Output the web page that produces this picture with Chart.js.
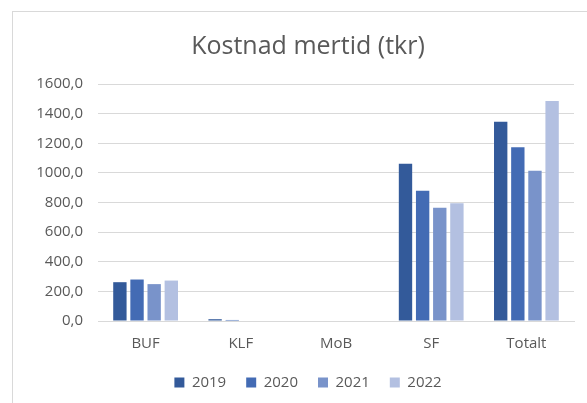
<!DOCTYPE html>
<html>
<head>
<meta charset="utf-8">
<script src="https://cdn.jsdelivr.net/npm/chart.js@4/dist/chart.umd.min.js"></script>
<style>
  html, body { margin: 0; padding: 0; background: #fff; }
  #frame { position: absolute; left: 12px; top: 11px; width: 600px; height: 420px;
           border-left: 1px solid #d9d9d9; border-top: 1px solid #d9d9d9; }
  #wrap { position: absolute; left: 0; top: 0; width: 587px; height: 403px; }
</style>
</head>
<body>
<div id="frame"></div>
<div id="wrap"><canvas id="chart"></canvas></div>
<script>
// data (tkr)
categories = ['BUF', 'KLF', 'MoB', 'SF', 'Totalt'];
years = ['2019', '2020', '2021', '2022'];
values_2019 = [262, 12, 0, 1062, 1345];
values_2020 = [280, 7, 0, 879, 1173];
values_2021 = [249, 0, 0, 764, 1015];
values_2022 = [273, 0, 0, 795, 1485];
y_ticks = [0, 200, 400, 600, 800, 1000, 1200, 1400, 1600];

colors = ['#335a9a', '#436bb4', '#7993ca', '#b3c0e1'];
series = [values_2019, values_2020, values_2021, values_2022];

textColor = '#595959';
gridColor = '#d9d9d9';
fontFamily = "'Open Sans', 'Noto Sans', sans-serif";

datasets = [];
years.forEach((y, i) => {
    datasets.push({
        label: y,
        data: series[i],
        backgroundColor: colors[i],
        borderWidth: 0,
        categoryPercentage: 0.72,
        barPercentage: 0.78
    });
});

// title and legend are centred on the outer frame (it runs past the window),
// and the legend sits a bit closer to the axis labels than chart.js puts it
frameCenter = 308;
legendLift = 12;
framePlugin = {
    id: 'framePlugin',
    afterLayout(chart) {
        [chart.titleBlock, chart.legend].forEach(b => {
            let dx = frameCenter - (b.left + b.right) / 2;
            b.left += dx;
            b.right += dx;
        });
        chart.legend.top -= legendLift;
        chart.legend.bottom -= legendLift;
    }
};

new Chart(document.getElementById('chart'), {
    type: 'bar',
    data: { labels: categories, datasets: datasets },
    plugins: [framePlugin],
    options: {
        responsive: true,
        maintainAspectRatio: false,
        animation: false,
        layout: { padding: { left: 0, right: 13, top: 24, bottom: -9 } },
        plugins: {
            title: {
                display: true,
                text: 'Kostnad mertid (tkr)',
                color: textColor,
                font: { family: fontFamily, size: 25, weight: 'normal' },
                padding: { top: 8, bottom: 22 }
            },
            legend: {
                position: 'bottom',
                labels: {
                    color: textColor,
                    font: { family: fontFamily, size: 15 },
                    boxWidth: 10,
                    boxHeight: 10,
                    padding: 20
                }
            },
            tooltip: { enabled: false }
        },
        scales: {
            x: {
                grid: { display: false, drawTicks: false },
                border: { display: true, color: gridColor, width: 1 },
                ticks: { color: textColor, font: { family: fontFamily, size: 15 }, padding: 14 }
            },
            y: {
                min: 0,
                max: 1600,
                afterFit: (s) => { s.width = 98; },
                afterBuildTicks: (s) => { s.ticks = y_ticks.map(v => ({ value: v })); },
                grid: { color: gridColor, lineWidth: 1, drawTicks: false },
                border: { display: false },
                ticks: {
                    color: textColor,
                    font: { family: fontFamily, size: 15 },
                    padding: 15,
                    callback: (v) => v.toFixed(1).replace('.', ',')
                }
            }
        }
    }
});
</script>
</body>
</html>
